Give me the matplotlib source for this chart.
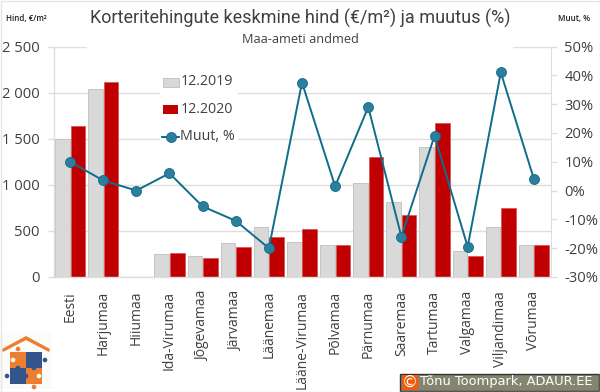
import matplotlib
matplotlib.use("Agg")
import matplotlib.pyplot as plt
import numpy as np
from matplotlib.patches import Circle, Polygon, Rectangle

plt.rcParams["font.family"] = ["Open Sans", "DejaVu Sans"]

counties = ["Eesti", "Harjumaa", "Hiiumaa", "Ida-Virumaa", "Jõgevamaa", "Järvamaa",
            "Läänemaa", "Lääne-Virumaa", "Põlvamaa", "Pärnumaa", "Saaremaa",
            "Tartumaa", "Valgamaa", "Viljandimaa", "Võrumaa"]
# Hiiumaa has no bars in the chart, so it stays at NaN
price_2019 = [1500, 2040, np.nan, 250, 230, 365, 540, 380, 345, 1015, 810, 1410, 280, 540, 345]
price_2020 = [1640, 2110, np.nan, 265, 210, 325, 430, 520, 350, 1300, 675, 1670, 225, 750, 350]
change_pct = [10, 3.5, 0, 6, -5.5, -10.5, -20, 37.5, 1.5, 29, -16, 19, -19.5, 41, 4]
left_ticks = [0, 500, 1000, 1500, 2000, 2500]
left_tick_labels = ["0", "500", "1 000", "1 500", "2 000", "2 500"]
right_ticks = [-30, -20, -10, 0, 10, 20, 30, 40, 50]

W, H = 600, 392
TEXT = "#404040"
GRID = "#dedede"
GRAY = "#d9d9d9"
RED = "#c00000"
TEAL = "#0f6d8c"
MARKER = "#2c7f9c"


def main() -> None:
    fig = plt.figure(figsize=(W / 100, H / 100), dpi=100, facecolor="white")
    ax = fig.add_axes([53.5 / W, 1 - 277 / H, 497 / W, 230.5 / H])
    x = np.arange(len(counties))

    # Bars on the left axis
    ax.bar(x - 0.235, price_2019, 0.44, color=GRAY, edgecolor="#c4c4c4", linewidth=0.7,
           label="12.2019", zorder=2)
    ax.bar(x + 0.235, price_2020, 0.44, color=RED, edgecolor="#d65050", linewidth=0.5,
           label="12.2020", zorder=2)
    ax.set_xlim(-0.5, len(counties) - 0.5)
    ax.set_ylim(0, 2500)
    ax.set_yticks(left_ticks)
    ax.set_yticklabels(left_tick_labels, fontsize=10.6, color=TEXT)
    ax.set_xticks(x)
    ax.set_xticklabels(counties, rotation=90, fontsize=10, color=TEXT)
    ax.tick_params(axis="x", length=0, pad=10)
    ax.tick_params(axis="y", length=4, color=GRID, width=1, pad=6)
    ax.grid(axis="y", color=GRID, linewidth=1, zorder=0)
    ax.set_axisbelow(True)
    for side in ["top", "right"]:
        ax.spines[side].set_visible(False)
    for side in ["left", "bottom"]:
        ax.spines[side].set_color(GRID)
        ax.spines[side].set_linewidth(1)

    # Price change on the right axis
    ax2 = ax.twinx()
    ax2.plot(x, change_pct, color=TEAL, linewidth=1.4, marker="o", markersize=7.2,
             markerfacecolor=MARKER, markeredgecolor=TEAL, markeredgewidth=0.6, zorder=5)
    ax2.set_ylim(-30, 50)
    ax2.set_yticks(right_ticks)
    ax2.set_yticklabels([f"{v}%" for v in right_ticks], fontsize=10.6, color=TEXT)
    ax2.tick_params(axis="y", length=4, color=GRID, width=1, pad=6)
    for side in ["top", "left", "bottom"]:
        ax2.spines[side].set_visible(False)
    ax2.spines["right"].set_color(GRID)

    # Overlay axes in pixel coordinates
    deco = fig.add_axes([0, 0, 1, 1], zorder=10)
    deco.set_xlim(0, W)
    deco.set_ylim(H, 0)
    deco.set_autoscale_on(False)
    deco.axis("off")

    # White boxes of the title and legend hide the gridlines behind them
    deco.add_patch(Rectangle((87, 5), 426, 44, fc="white", ec="none"))
    deco.add_patch(Rectangle((160, 72), 78, 74, fc="white", ec="none"))

    # Titles and axis captions
    deco.text(300, 18.5, "Korteritehingute keskmine hind (€/m²) ja muutus (%)",
              ha="center", va="center", fontsize=13, color=TEXT, family=["Roboto", "DejaVu Sans"])
    deco.text(300, 39, "Maa-ameti andmed", ha="center", va="center", fontsize=9.2, color=TEXT)
    deco.text(26, 18, "Hind, €/m²", ha="center", va="center", fontsize=5.8,
              color="#222222", weight="semibold")
    deco.text(574, 18, "Muut, %", ha="center", va="center", fontsize=5.8,
              color="#222222", weight="semibold")

    # Manual legend, placed as in the reference
    deco.add_patch(Rectangle((162.5, 77.5), 16, 9, fc=GRAY, ec="#c4c4c4", lw=0.7))
    deco.add_patch(Rectangle((163, 105), 15, 9, fc=RED, ec="none"))
    deco.plot([162, 179], [137, 137], color=TEAL, lw=1.4)
    deco.plot([170.5], [137], "o", ms=7.2, mfc=MARKER, mec=TEAL, mew=0.6)
    for y, label in [(81.5, "12.2019"), (109, "12.2020"), (136, "Muut, %")]:
        deco.text(180.5, y, label, ha="left", va="center", fontsize=10.3, color=TEXT)

    # Logo: roof and four puzzle pieces
    deco.add_patch(Rectangle((0, 333), 52, 56, fc="#fbfbf8", ec="none"))
    deco.add_patch(Polygon([(2, 349), (26, 336), (50, 349), (49, 352), (26, 340), (3, 352)],
                           fc="#ed7d31", ec="none"))
    deco.add_patch(Rectangle((10, 352), 16, 16, fc="#ed7d31", ec="none"))
    deco.add_patch(Rectangle((26, 352), 16, 16, fc="#34558b", ec="none"))
    deco.add_patch(Rectangle((10, 368), 16, 16, fc="#34558b", ec="none"))
    deco.add_patch(Rectangle((26, 368), 16, 16, fc="#ed7d31", ec="none"))
    for cx, cy, col in [(18, 349, "#ed7d31"), (34, 387, "#ed7d31"), (45, 360, "#34558b"),
                        (7, 376, "#34558b"), (18, 368, "#34558b"), (34, 368, "#34558b"),
                        (13, 360, "white"), (39, 376, "white"), (26, 376, "#34558b")]:
        deco.add_patch(Circle((cx, cy), 2.3, fc=col, ec="none"))

    # Copyright badge
    deco.add_patch(Rectangle((399.5, 373.5), 199, 17.5, fc="#85856f", ec="#333333", lw=1))
    deco.add_patch(Rectangle((402, 375), 16, 14.5, fc="#f05a0a", ec="none"))
    deco.text(410, 382, "©", ha="center", va="center", fontsize=11.5, color="white",
              family="DejaVu Sans")
    deco.text(420.5, 382, "Tõnu Toompark, ADAUR.EE", ha="left", va="center", fontsize=9.4,
              color="white", family="DejaVu Sans")

    # Thin frame of the image
    deco.add_patch(Rectangle((0.5, 0.5), W - 1, H - 1, fc="none", ec="#e6e6e6", lw=1))

    fig.savefig("out.png", dpi=100)


main()
